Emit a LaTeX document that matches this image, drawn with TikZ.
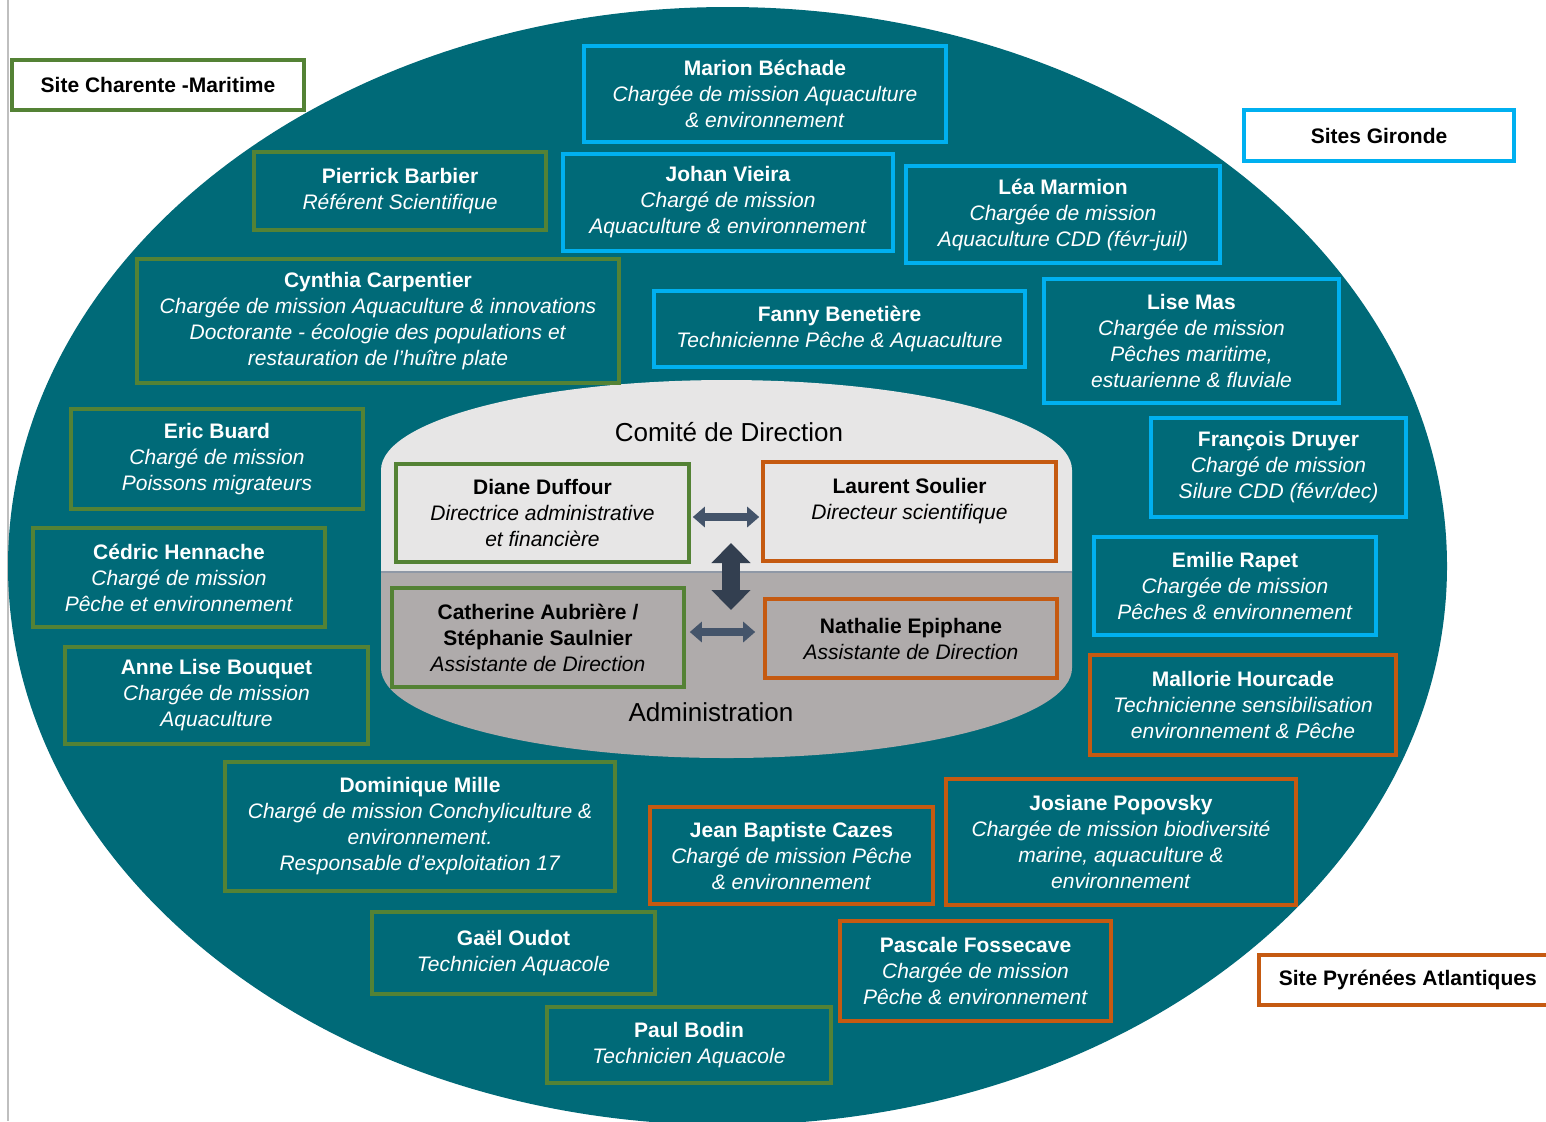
\documentclass[tikz,border=0pt]{standalone}
\usepackage{fontspec}
\setmainfont{Liberation Sans}
\usetikzlibrary{arrows.meta}
\definecolor{tealbg}{HTML}{006A78}
\definecolor{grn}{HTML}{548235}
\definecolor{blu}{HTML}{00B0F0}
\definecolor{org}{HTML}{C55A11}
\definecolor{cyltop}{HTML}{E7E6E6}
\definecolor{cylbot}{HTML}{AFABAB}
\definecolor{arrA}{HTML}{44546A}
\definecolor{arrB}{HTML}{333F50}
\newcommand\bx[7]{\node[#2,minimum width={(#5-#3)*0.5pt},minimum height={(#6-#4)*0.5pt}] (#1) at ({(#3+#5)/2},{(#4+#6)/2}) {#7};}
\begin{document}
\begin{tikzpicture}[x=0.5pt,y=-0.5pt,
  pbox/.style={draw,line width=1.8pt,inner sep=0pt,align=center,font=\fontsize{10.5}{13}\selectfont},
  tbox/.style={pbox,fill=tealbg,text=white},
  gbox/.style={tbox,draw=grn},
  bbox/.style={tbox,draw=blu},
  obox/.style={tbox,draw=org},
  sitebox/.style={pbox,fill=white,text=black,font=\fontsize{10.5}{13}\selectfont\bfseries},
  harr/.style={arrA,line width=4pt,{Triangle[width=10pt,length=6pt]}-{Triangle[width=10pt,length=6pt]}},
  varr/.style={arrB,line width=9pt,{Triangle[width=19pt,length=10pt]}-{Triangle[width=19pt,length=10pt]}},
  head/.style={font=\fontsize{13}{15}\selectfont,text=black}
]
\useasboundingbox (0,0) rectangle (1546,1121);
\fill[white] (0,0) rectangle (1546,1121);
\draw[black!25,line width=0.6pt] (8,0) -- (8,1121);
% big ellipse
\fill[tealbg] (727.5,566) ellipse [x radius=719.5, y radius=559];
% cylinder
\fill[cyltop] (381,572) -- (381,470) arc[start angle=180,end angle=360,x radius=345.5,y radius=90] -- (1072,572) -- cycle;
\fill[cylbot] (381,572) -- (381,668) arc[start angle=180,end angle=0,x radius=345.5,y radius=90] -- (1072,572) -- cycle;
\draw[color=arrA!60,line width=1pt] (381,572) -- (1072,572);
\node[head] (cdd) at (729,432) {Comité de Direction};
\node[head] (adm) at (711,712) {Administration};

% site labels
\bx{s1}{sitebox,draw=grn}{12}{60}{304}{110}{Site Charente -Maritime}
\bx{s2}{sitebox,draw=blu}{1244}{110}{1514}{161}{Sites Gironde}
\node[sitebox,draw=org,minimum width=147pt,minimum height=25pt,anchor=west] (s3) at (1257,980) {\hspace{10pt}Site Pyrénées Atlantiques\hspace{16pt}};

% blue
\bx{b1}{bbox}{584}{46}{946}{142}{\textbf{Marion Béchade}\\\textit{Chargée de mission Aquaculture}\\\textit{\& environnement}}
\bx{b2}{bbox}{563}{154}{893}{251}{\textbf{Johan Vieira}\\\textit{Chargé de mission}\\\textit{Aquaculture \& environnement}}
\bx{b3}{bbox}{906}{166}{1220}{263}{\textbf{Léa Marmion}\\\textit{Chargée de mission}\\\textit{Aquaculture CDD (févr-juil)}}
\bx{b4}{bbox}{654}{291}{1025}{367}{\textbf{Fanny Benetière}\\\textit{Technicienne Pêche \& Aquaculture}}
\bx{b5}{bbox}{1044}{279}{1339}{403}{\textbf{Lise Mas}\\\textit{Chargée de mission}\\\textit{Pêches maritime,}\\\textit{estuarienne \& fluviale}}
\bx{b6}{bbox}{1151}{418}{1406}{517}{\textbf{François Druyer}\\\textit{Chargé de mission}\\\textit{Silure CDD (févr/dec)}}
\bx{b7}{bbox}{1094}{537}{1376}{635}{\textbf{Emilie Rapet}\\\textit{Chargée de mission}\\\textit{Pêches \& environnement}}
% orange
\bx{b8}{obox}{1090}{655}{1396}{755}{\textbf{Mallorie Hourcade}\\\textit{Technicienne sensibilisation}\\\textit{environnement \& Pêche}}
\bx{b9}{obox}{946}{779}{1296}{905}{\textbf{Josiane Popovsky}\\\textit{Chargée de mission biodiversité}\\\textit{marine, aquaculture \&}\\\textit{environnement}}
\bx{b10}{obox}{650}{807}{933}{904}{\textbf{Jean Baptiste Cazes}\\\textit{Chargé de mission Pêche}\\\textit{\& environnement}}
\bx{b11}{obox}{840}{921}{1111}{1021}{\textbf{Pascale Fossecave}\\\textit{Chargée de mission}\\\textit{Pêche \& environnement}}
% green
\bx{b12}{gbox}{254}{152}{546}{230}{\textbf{Pierrick Barbier}\\\textit{Référent Scientifique}}
\bx{b13}{gbox}{137}{259}{619}{383}{\textbf{Cynthia Carpentier}\\\textit{Chargée de mission Aquaculture \& innovations}\\\textit{Doctorante - écologie des populations et}\\\textit{restauration de l’huître plate}}
\bx{b14}{gbox}{71}{409}{363}{509}{\textbf{Eric Buard}\\\textit{Chargé de mission}\\\textit{Poissons migrateurs}}
\bx{b15}{gbox}{33}{528}{325}{627}{\textbf{Cédric Hennache}\\\textit{Chargé de mission}\\\textit{Pêche et environnement}}
\bx{b16}{gbox}{65}{647}{368}{744}{\textbf{Anne Lise Bouquet}\\\textit{Chargée de mission}\\\textit{Aquaculture}}
\bx{b17}{gbox}{225}{762}{615}{891}{\textbf{Dominique Mille}\\\textit{Chargé de mission Conchyliculture \&}\\\textit{environnement.}\\\textit{Responsable d’exploitation 17}}
\bx{b18}{gbox}{372}{912}{655}{994}{\textbf{Gaël Oudot}\\\textit{Technicien Aquacole}}
\bx{b19}{gbox}{547}{1007}{831}{1083}{\textbf{Paul Bodin}\\\textit{Technicien Aquacole}}

% direction boxes
\bx{diane}{pbox,draw=grn,fill=cyltop}{396}{464}{689}{562}{\textbf{Diane Duffour}\\\textit{Directrice administrative}\\\textit{et financière}}
\bx{laurent}{pbox,draw=org,fill=cyltop}{763}{462}{1056}{561}{\textbf{Laurent Soulier}\\\textit{Directeur scientifique}\\\mbox{}}
\bx{cath}{pbox,draw=grn,fill=cylbot}{392}{588}{684}{687}{\textbf{Catherine Aubrière /}\\\textbf{Stéphanie Saulnier}\\\textit{Assistante de Direction}}
\bx{nath}{pbox,draw=org,fill=cylbot}{765}{599}{1057}{678}{\textbf{Nathalie Epiphane}\\\textit{Assistante de Direction}}

% arrows
\draw[harr] ([shift={(1pt,-2pt)}]diane.east) -- ([shift={(-1pt,-2pt)}]diane.east -| laurent.west);
\draw[harr] ([shift={(2pt,2.75pt)}]cath.east) -- ([shift={(-4pt,2.75pt)}]cath.east -| nath.west);
\coordinate (vt) at (731,543);
\coordinate (vb) at (731,610);
\draw[varr] (vt) -- (vb);
\end{tikzpicture}
\end{document}
